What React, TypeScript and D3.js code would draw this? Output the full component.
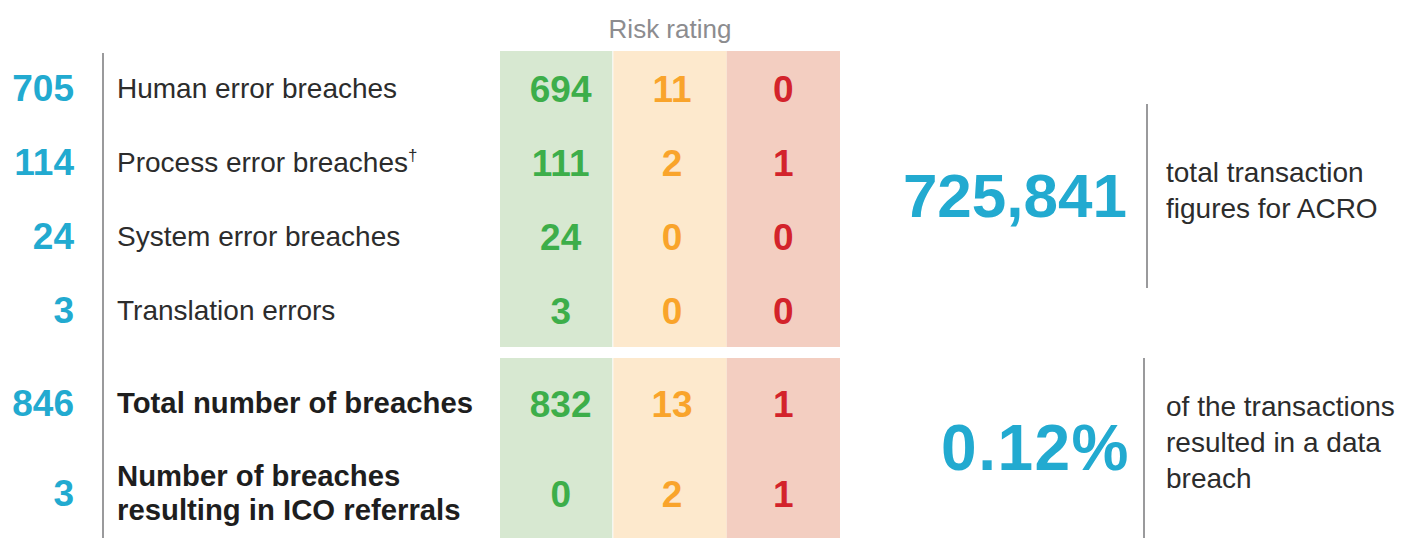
import React from "react";
import * as d3 from "d3";

const WIDTH = 1402;
const HEIGHT = 538;

// breach categories, one block per group
const breachLabels = [
  ["Human error breaches"],
  ["Process error breaches"],
  ["System error breaches"],
  ["Translation errors"],
];
const breachTotals = [705, 114, 24, 3];
const lowRisk = [694, 111, 24, 3];
const mediumRisk = [11, 2, 0, 0];
const highRisk = [0, 1, 0, 0];
const footnoted = [false, true, false, false];

const summaryLabels = [
  ["Total number of breaches"],
  ["Number of breaches", "resulting in ICO referrals"],
];
const summaryTotals = [846, 3];
const summaryLow = [832, 0];
const summaryMedium = [13, 2];
const summaryHigh = [1, 1];

const riskLevels = ["low", "medium", "high"];
const riskTitle = "Risk rating";

const transactions = 725841;
const transactionText = ["total transaction", "figures for ACRO"];
const breachRateText = ["of the transactions", "resulted in a data", "breach"];

const BLUE = "#22aad0";
const TEXT = "#2c2c2c";
const LINE = "#9a9a9c";
const BG = { low: "#d7e8d1", medium: "#fde9cd", high: "#f3cec1" };
const FG = { low: "#3dae4a", medium: "#f9a42b", high: "#d3232b" };
const FONT = "'Liberation Sans', Arial, Helvetica, sans-serif";

export default function App() {
  // columns of the risk table
  const xCol = d3.scaleBand().domain(riskLevels).range([500, 840]);
  // two row blocks
  const yTop = d3.scaleBand().domain(d3.range(breachLabels.length).map(String)).range([51, 347]);
  const yBottom = d3.scaleBand().domain(d3.range(summaryLabels.length).map(String)).range([358, 538]);

  const fmt = d3.format(",");
  const rate = summaryTotals[0] / transactions;
  const pct = d3.format(".2%")(rate);

  const block = (
    labels: string[][],
    totals: number[],
    cols: number[][],
    y: d3.ScaleBand<string>,
    bold: boolean,
    key: string
  ) => {
    const [y0, y1] = y.range();
    return (
      <g key={key}>
        {riskLevels.map((r, j) => (
          <rect
            key={r}
            x={xCol(r)}
            y={y0}
            width={xCol.bandwidth() - (j === 0 ? 1 : 0)}
            height={y1 - y0}
            fill={BG[r]}
          />
        ))}
        {labels.map((lines, i) => {
          const cy = y(String(i))! + y.bandwidth() / 2;
          return (
            <g key={i}>
              <text
                x={74}
                y={cy + 13}
                textAnchor="end"
                fontSize={37}
                fontWeight="bold"
                fill={BLUE}
              >
                {totals[i]}
              </text>
              {lines.map((ln, k) => (
                <text
                  key={k}
                  x={117}
                  y={cy + 10 + (k - (lines.length - 1) / 2) * 34}
                  fontSize={bold ? 29.3 : 28}
                  fontWeight={bold ? "bold" : "normal"}
                  fill={bold ? "#1e1e1e" : TEXT}
                >
                  {ln}
                  {!bold && footnoted[i] && (
                    <tspan fontSize={17} dy={-11}>
                      †
                    </tspan>
                  )}
                </text>
              ))}
              {riskLevels.map((r, j) => (
                <text
                  key={r}
                  x={xCol(r)! + xCol.bandwidth() / 2 + [4, 2, 0][j]}
                  y={cy + 13.5}
                  textAnchor="middle"
                  fontSize={37}
                  fontWeight="bold"
                  fill={FG[r]}
                >
                  {cols[j][i]}
                </text>
              ))}
            </g>
          );
        })}
      </g>
    );
  };

  return (
    <svg
      width={WIDTH}
      height={HEIGHT}
      style={{ position: "absolute", left: 0, top: 0 }}
      fontFamily={FONT}
    >
      <rect width={WIDTH} height={HEIGHT} fill="#fff" />
      <text x={670} y={38} textAnchor="middle" fontSize={26} fill="#8c8c8f">
        {riskTitle}
      </text>

      {block(breachLabels, breachTotals, [lowRisk, mediumRisk, highRisk], yTop, false, "top")}
      {block(summaryLabels, summaryTotals, [summaryLow, summaryMedium, summaryHigh], yBottom, true, "bottom")}

      <line x1={103} x2={103} y1={53} y2={538} stroke={LINE} strokeWidth={2} />

      {/* transaction total */}
      <text x={1127} y={217} textAnchor="end" fontSize={62} fontWeight="bold" fill={BLUE}>
        {fmt(transactions)}
      </text>
      <line x1={1147} x2={1147} y1={104} y2={288} stroke={LINE} strokeWidth={2} />
      {transactionText.map((t, i) => (
        <text key={i} x={1166} y={182 + i * 36} fontSize={28} fill={TEXT}>
          {t}
        </text>
      ))}

      {/* breach rate */}
      <text x={1130} y={470} textAnchor="end" fontSize={64} letterSpacing={1.5} fontWeight="bold" fill={BLUE}>
        {pct}
      </text>
      <line x1={1144} x2={1144} y1={358} y2={538} stroke={LINE} strokeWidth={2} />
      {breachRateText.map((t, i) => (
        <text key={i} x={1166} y={416 + i * 36} fontSize={28} fill={TEXT}>
          {t}
        </text>
      ))}
    </svg>
  );
}
